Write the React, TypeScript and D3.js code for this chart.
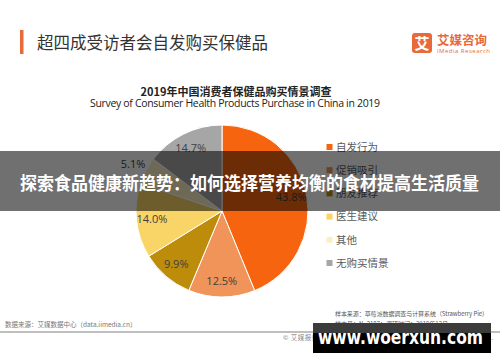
import React, { useRef, useEffect } from "react";
import * as d3 from "d3";

const categories = ["自发行为", "促销吸引", "朋友推荐", "医生建议", "其他", "无购买情景"];
const shares = [43.8, 12.5, 9.9, 14.0, 5.1, 14.7];
const colors = ["#F6640F", "#F09459", "#BE8C0B", "#F9D466", "#FBEFC6", "#A6A6A6"];

const CJK = "'Noto Sans CJK SC', 'Noto Sans', sans-serif";

const App: React.FC = () => {
  const svgRef = useRef<SVGSVGElement | null>(null);

  useEffect(() => {
    if (!svgRef.current) return;
    const svg = d3.select(svgRef.current);
    svg.selectAll("*").remove();

    const W = 500;
    const H = 362;
    svg.attr("width", W).attr("height", H);
    svg.append("rect").attr("width", W).attr("height", H).attr("fill", "#fff");

    // header
    svg.append("rect").attr("x", 20).attr("y", 30).attr("width", 3.5).attr("height", 24).attr("fill", "#E8693A");
    svg
      .append("text")
      .attr("x", 37)
      .attr("y", 49)
      .attr("font-family", CJK)
      .attr("font-size", 16.5)
      .attr("fill", "#333")
      .text("超四成受访者会自发购买保健品");

    // logo
    svg.append("rect").attr("x", 412).attr("y", 33).attr("width", 20).attr("height", 20).attr("rx", 3).attr("fill", "#E8693A");
    svg
      .append("text")
      .attr("x", 422)
      .attr("y", 48.5)
      .attr("text-anchor", "middle")
      .attr("font-family", CJK)
      .attr("font-weight", "bold")
      .attr("font-size", 15)
      .attr("fill", "#fff")
      .text("艾");
    svg
      .append("text")
      .attr("x", 437)
      .attr("y", 45)
      .attr("font-family", CJK)
      .attr("font-weight", "bold")
      .attr("font-size", 12.5)
      .attr("fill", "#E8693A")
      .text("艾媒咨询");
    svg
      .append("text")
      .attr("x", 437)
      .attr("y", 53)
      .attr("font-family", "'Open Sans', sans-serif")
      .attr("font-size", 6)
      .attr("fill", "#E8693A")
      .attr("textLength", 53)
      .text("iMedia Research");

    // chart titles
    svg
      .append("text")
      .attr("x", 236)
      .attr("y", 96)
      .attr("text-anchor", "middle")
      .attr("font-family", CJK)
      .attr("font-weight", "bold")
      .attr("font-size", 11)
      .attr("fill", "#222")
      .text("2019年中国消费者保健品购买情景调查");
    svg
      .append("text")
      .attr("x", 90)
      .attr("y", 107)
      .attr("font-family", "'Open Sans', sans-serif")
      .attr("font-size", 10.5)
      .attr("fill", "#222")
      .attr("textLength", 290)
      .text("Survey of Consumer Health Products Purchase in China in 2019");

    // pie
    const cx = 222;
    const cy = 211;
    const r = 86;
    const pie = d3
      .pie<number>()
      .sort(null)
      .value((d) => d);
    const arcs = pie(shares);
    const arc = d3.arc<d3.PieArcDatum<number>>().innerRadius(0).outerRadius(r);
    const g = svg.append("g").attr("transform", `translate(${cx},${cy})`);

    g.selectAll("path.slice")
      .data(arcs)
      .enter()
      .append("path")
      .attr("class", "slice")
      .attr("d", arc)
      .attr("fill", (_, i) => colors[i])
      .attr("stroke", "#fff")
      .attr("stroke-width", 1);

    g.selectAll("text.lbl")
      .data(arcs)
      .enter()
      .append("text")
      .attr("class", "lbl")
      .attr("transform", (d) => {
        const lr = d.value < 8 ? r * 1.17 : r * 0.82;
        const la = d3.arc<d3.PieArcDatum<number>>().innerRadius(lr).outerRadius(lr);
        const [x, y] = la.centroid(d);
        return `translate(${x},${y})`;
      })
      .attr("text-anchor", "middle")
      .attr("dy", "0.35em")
      .attr("font-family", "'Open Sans', sans-serif")
      .attr("font-size", 11)
      .attr("fill", "#404040")
      .text((d) => `${d.value.toFixed(1)}%`);

    // legend
    const legendY = d3
      .scalePoint<string>()
      .domain(categories)
      .range([147, 263]);
    const lg = svg.append("g");
    categories.forEach((c, i) => {
      const y = legendY(c)!;
      lg.append("rect").attr("x", 326.5).attr("y", y - 3).attr("width", 6).attr("height", 6).attr("fill", colors[i]);
      lg.append("text")
        .attr("x", 336)
        .attr("y", y)
        .attr("dy", "0.36em")
        .attr("font-family", CJK)
        .attr("font-size", 10.5)
        .attr("fill", "#595959")
        .text(c);
    });

    // footer
    svg
      .append("text")
      .attr("x", 5)
      .attr("y", 327)
      .attr("font-family", CJK)
      .attr("font-size", 6.5)
      .attr("fill", "#777")
      .text("数据来源：艾媒数据中心（data.iimedia.cn）");
    svg
      .append("text")
      .attr("x", 335)
      .attr("y", 316)
      .attr("font-family", CJK)
      .attr("font-size", 6)
      .attr("fill", "#555")
      .attr("textLength", 153)
      .text("样本来源：草莓派数据调查与计算系统（Strawberry Pie）");
    svg
      .append("text")
      .attr("x", 335)
      .attr("y", 325.5)
      .attr("font-family", CJK)
      .attr("font-size", 6)
      .attr("fill", "#555")
      .text("样本量：N=2187；调研时间：2019年12月");
    svg.append("line").attr("x1", 0).attr("x2", 500).attr("y1", 332).attr("y2", 332).attr("stroke", "#aaa").attr("stroke-width", 1.5);
    svg
      .append("text")
      .attr("x", 283)
      .attr("y", 340)
      .attr("font-family", CJK)
      .attr("font-size", 6.5)
      .attr("fill", "#888")
      .attr("textLength", 210)
      .text("© 艾媒报告中心 report.iimedia.cn ©2020 iiMedia Research Inc.");

    // banner overlay
    svg.append("rect").attr("x", 0).attr("y", 151).attr("width", W).attr("height", 60).attr("fill", "#000").attr("opacity", 0.56);
    svg
      .append("text")
      .attr("x", 20)
      .attr("y", 184)
      .attr("dy", "0.36em")
      .attr("font-family", CJK)
      .attr("font-weight", "bold")
      .attr("font-size", 18)
      .attr("fill", "#fff")
      .attr("textLength", 459)
      .attr("lengthAdjust", "spacingAndGlyphs")
      .text("探索食品健康新趋势：如何选择营养均衡的食材提高生活质量");

    // watermark
    svg.append("rect").attr("x", 313).attr("y", 323).attr("width", 178).attr("height", 10).attr("fill", "#3c3c3c");
    svg.append("rect").attr("x", 313).attr("y", 333).attr("width", 178).attr("height", 20).attr("fill", "#000");
    svg
      .append("text")
      .attr("x", 318)
      .attr("y", 344)
      .attr("font-family", "'DejaVu Sans', sans-serif")
      .attr("font-weight", "bold")
      .attr("font-size", 19)
      .attr("fill", "#fff")
      .attr("textLength", 165)
      .attr("lengthAdjust", "spacingAndGlyphs")
      .text("www.woerxun.com");
  }, []);

  return (
    <div style={{ position: "absolute", left: 0, top: 0 }}>
      <svg ref={svgRef}></svg>
    </div>
  );
};

export default App;
